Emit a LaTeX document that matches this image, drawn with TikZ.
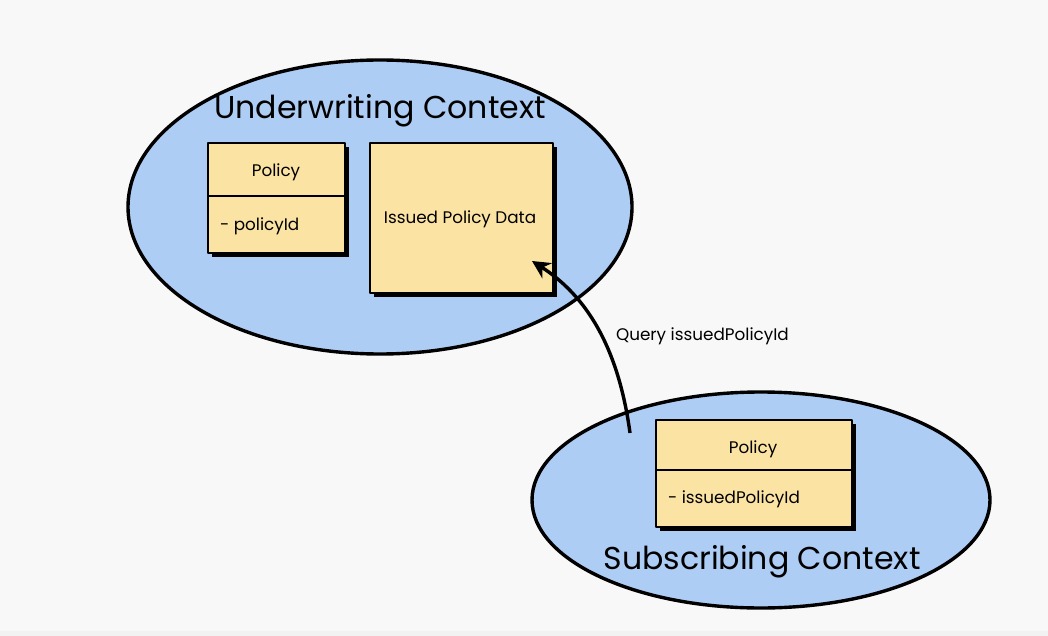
\documentclass[tikz,border=0pt]{standalone}
\usepackage{fontspec}
\setmainfont{Poppins}
\usetikzlibrary{arrows.meta,shapes.geometric,positioning,calc}
\definecolor{ctxblue}{HTML}{AECDF5}
\definecolor{boxyellow}{HTML}{FBE3A4}
\definecolor{paper}{HTML}{F8F8F8}

\begin{document}
\begin{tikzpicture}[x=0.5pt,y=-0.5pt,line join=round,
  context/.style={draw=black,line width=1.7pt,fill=ctxblue},
  umlbox/.style={draw=black,line width=1.4pt,fill=boxyellow},
  boxshadow/.style={fill=black},
  smalltext/.style={font=\fontsize{8.4}{9.5}\selectfont},
  bigtext/.style={font=\fontsize{15.8}{17}\selectfont}]
\fill[paper] (0,0) rectangle (1048,636);
\fill[black!5] (0,631) rectangle (1048,636);
\useasboundingbox (0,0) rectangle (1048,636);
% contexts
\draw[context] (380,207) ellipse [x radius=252, y radius=147];
\draw[context] (761,500) ellipse [x radius=229, y radius=108];
\node[bigtext] (uwtitle) at (380,111) {Underwriting Context};
\node[bigtext] (subtitle) at (762,562) {Subscribing Context};
% underwriting policy
\fill[boxshadow] (212,147) rectangle (349,257);
\draw[umlbox] (208,143) rectangle (345,253);
\draw[line width=1.4pt] (208,196) -- (345,196);
\node[smalltext] (uwpolicy) at (276,172) {Policy};
\node[smalltext,anchor=west] (uwpolicyid) at (213,226) {- policyId};
% issued policy data
\fill[boxshadow] (374,147) rectangle (557,297);
\draw[umlbox] (370,143) rectangle (553,293);
\node[smalltext] (issued) at (460,219) {Issued Policy Data};
\coordinate (querytip) at (532,261);
% subscribing policy
\fill[boxshadow] (660,424) rectangle (856,531);
\draw[umlbox] (656,420) rectangle (852,527);
\draw[line width=1.4pt] (656,470) -- (852,470);
\node[smalltext] (subpolicy) at (753,449) {Policy};
\node[smalltext,anchor=west] (subpolicyid) at (661,499) {- issuedPolicyId};
\coordinate (querystart) at (630,433);
% query
\draw[line width=1.7pt,-{Stealth[length=9pt,width=9pt]}] (querystart) .. controls (618,345) and (585,295) .. (querytip);
\node[smalltext,anchor=west] (query) at (609,336) {Query issuedPolicyId};
\end{tikzpicture}
\end{document}
